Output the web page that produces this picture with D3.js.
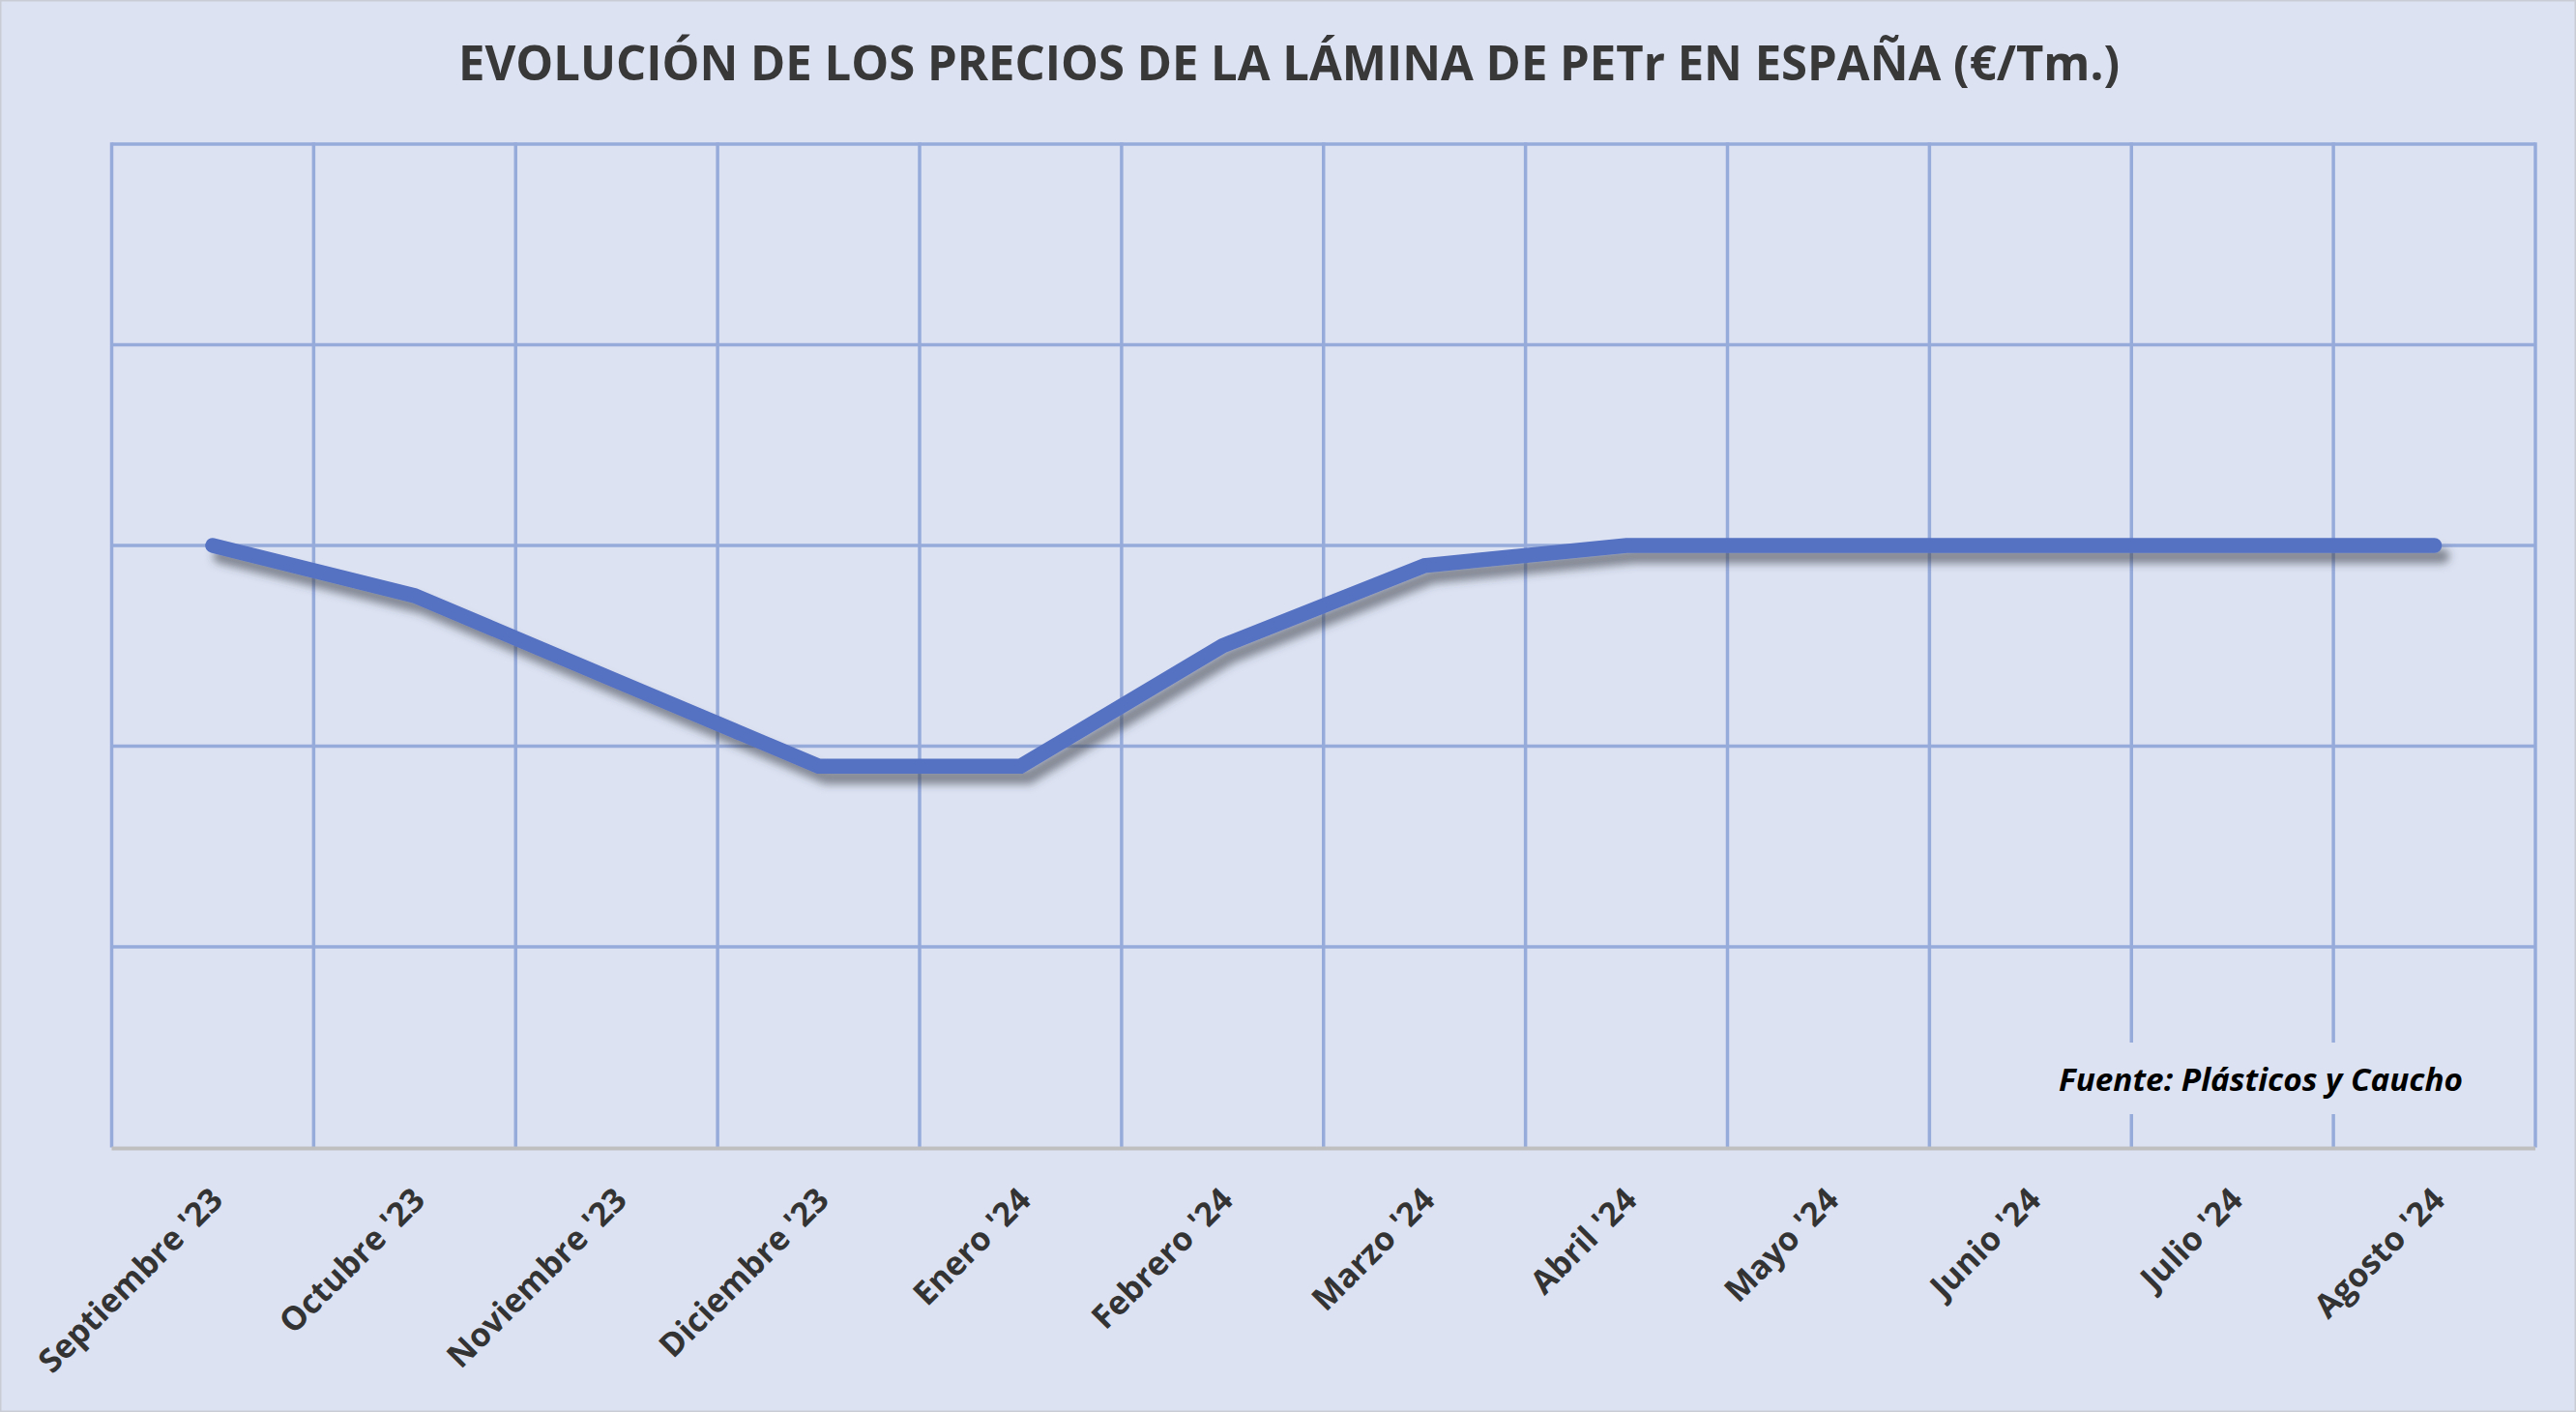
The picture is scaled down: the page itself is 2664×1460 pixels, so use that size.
<!DOCTYPE html>
<html>
<head>
<meta charset="utf-8">
<script src="https://cdn.jsdelivr.net/npm/d3@7/dist/d3.min.js"></script>
<style>
  html, body { margin: 0; padding: 0; background: #dce2f2; }
  svg { display: block; }
</style>
</head>
<body>
<script>
const categories = ["Septiembre '23", "Octubre '23", "Noviembre '23", "Diciembre '23", "Enero '24", "Febrero '24",
  "Marzo '24", "Abril '24", "Mayo '24", "Junio '24", "Julio '24", "Agosto '24"];
const prices = [1600, 1550, 1465, 1380, 1380, 1500, 1580, 1600, 1600, 1600, 1600, 1600];
const yTicks = [1000, 1200, 1400, 1600, 1800, 2000];
const titleText = "EVOLUCIÓN DE LOS PRECIOS DE LA LÁMINA DE PETr EN ESPAÑA (€/Tm.)";
const sourceText = "Fuente: Plásticos y Caucho";

const W = 2664, H = 1460;
const plot = { left: 115.5, right: 2622, top: 149, bottom: 1186.5 };
const FONT = "'Open Sans', 'DejaVu Sans', sans-serif";
const BG = "#dce2f2", GRID = "#97abdb", LINE = "#5571c2";

const svg = d3.select("body").append("svg").attr("width", W).attr("height", H);

const defs = svg.append("defs");
const f = defs.append("filter").attr("id", "shadow")
  .attr("x", "-10%").attr("y", "-30%").attr("width", "120%").attr("height", "160%");
f.append("feDropShadow").attr("dx", 8).attr("dy", 11).attr("stdDeviation", 4)
  .attr("flood-color", "#3a3f4a").attr("flood-opacity", 0.55);

svg.append("rect").attr("x", 0.5).attr("y", 0.5).attr("width", W - 1).attr("height", H - 1)
  .attr("fill", BG).attr("stroke", "#c9ccd4").attr("stroke-width", 2);

const x = d3.scaleBand().domain(categories).range([plot.left, plot.right]).padding(0);
const y = d3.scaleLinear().domain([1000, 2000]).range([plot.bottom, plot.top]);

// horizontal gridlines
svg.append("g").selectAll("line").data(yTicks.slice(1)).join("line")
  .attr("x1", plot.left).attr("x2", plot.right)
  .attr("y1", d => y(d)).attr("y2", d => y(d))
  .attr("stroke", GRID).attr("stroke-width", 3.5);

// vertical gridlines at category boundaries
const bounds = categories.map(c => x(c)).concat([plot.right]);
svg.append("g").selectAll("line").data(bounds).join("line")
  .attr("x1", d => d).attr("x2", d => d)
  .attr("y1", plot.top - 1.75).attr("y2", plot.bottom)
  .attr("stroke", GRID).attr("stroke-width", 3.5);

// bottom axis line
svg.append("line").attr("x1", plot.left).attr("x2", plot.right)
  .attr("y1", plot.bottom + 1).attr("y2", plot.bottom + 1)
  .attr("stroke", "#bfbfbf").attr("stroke-width", 4);

// source box (masks gridlines)
svg.append("rect").attr("x", 2112).attr("y", 1078).attr("width", 450).attr("height", 74).attr("fill", BG);
svg.append("text").attr("x", 2129).attr("y", 1128)
  .attr("font-family", FONT).attr("font-weight", 700).attr("font-style", "italic")
  .attr("font-size", 32).attr("fill", "#000")
  .attr("textLength", 418).attr("lengthAdjust", "spacingAndGlyphs")
  .text(sourceText);

// line
const lineGen = d3.line()
  .x((d, i) => x(categories[i]) + x.bandwidth() / 2)
  .y(d => y(d));
svg.append("path").datum(prices)
  .attr("d", lineGen)
  .attr("fill", "none").attr("stroke", LINE).attr("stroke-width", 15.5)
  .attr("stroke-linecap", "round").attr("stroke-linejoin", "miter")
  .attr("filter", "url(#shadow)");

// x labels
svg.append("g").selectAll("text").data(categories).join("text")
  .attr("transform", d => `translate(${x(d) + x.bandwidth() / 2 + 4},1234) rotate(-45)`)
  .attr("text-anchor", "end").attr("dy", "0.36em")
  .attr("font-family", FONT).attr("font-weight", 700).attr("font-size", 34)
  .attr("fill", "#333333")
  .text(d => d);

// title
svg.append("text").attr("x", 474).attr("y", 83)
  .attr("font-family", FONT).attr("font-weight", 700).attr("font-size", 51)
  .attr("fill", "#383838")
  .attr("textLength", 1718).attr("lengthAdjust", "spacingAndGlyphs")
  .text(titleText);
</script>
</body>
</html>
